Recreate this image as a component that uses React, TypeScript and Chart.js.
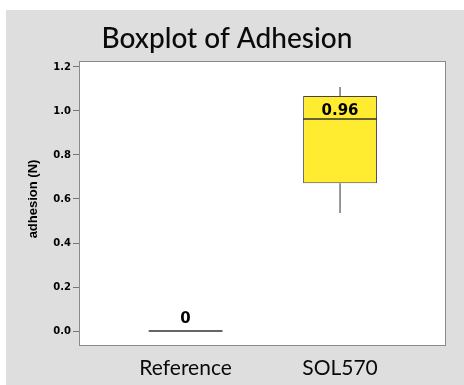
import React, { useEffect, useRef } from "react";
import { Chart, registerables } from "chart.js";

Chart.register(...registerables);

const categories = ["Reference", "SOL570"];
const whiskerLow = [0, 0.536];
const q1 = [0, 0.671];
const median = [0, 0.963];
const q3 = [0, 1.068];
const whiskerHigh = [0, 1.109];
const yTicks = [0, 0.2, 0.4, 0.6, 0.8, 1.0, 1.2];

const TITLE = "Boxplot of Adhesion";
const Y_TITLE = "adhesion (N)";
const BOX_WIDTH = 0.478; // fraction of category spacing

export default function App() {
  const ref = useRef<HTMLCanvasElement>(null);

  useEffect(() => {
    const canvas = ref.current;
    if (!canvas) return;
    const xs = categories.map((_, i) => i + 1);
    const half = BOX_WIDTH / 2;

    const medianPts: any[] = [];
    xs.forEach((x, i) => {
      medianPts.push({ x: x - half, y: median[i] }, { x: x + half, y: median[i] }, { x: x + half, y: null });
    });
    const whiskerPts: any[] = [];
    xs.forEach((x, i) => {
      if (whiskerHigh[i] > q3[i]) whiskerPts.push({ x, y: q3[i] }, { x, y: whiskerHigh[i] }, { x, y: null });
      if (whiskerLow[i] < q1[i]) whiskerPts.push({ x, y: q1[i] }, { x, y: whiskerLow[i] }, { x, y: null });
    });

    const deco = {
      id: "deco",
      beforeDraw(chart: any) {
        const { ctx, width, height, chartArea: a } = chart;
        ctx.save();
        ctx.fillStyle = "#ffffff";
        ctx.fillRect(0, 0, width, height);
        ctx.fillStyle = "#dedede";
        ctx.fillRect(6, 10, width - 6, height - 10);
        ctx.fillStyle = "#ffffff";
        ctx.fillRect(a.left, a.top, a.right - a.left, a.bottom - a.top);
        ctx.restore();
      },
      afterDatasetsDraw(chart: any) {
        const { ctx, scales } = chart;
        ctx.save();
        ctx.fillStyle = "#000000";
        ctx.font = "bold 15px 'DejaVu Sans'";
        ctx.textAlign = "center";
        ctx.textBaseline = "alphabetic";
        median.forEach((m, i) => {
          const px = scales.x.getPixelForValue(i + 1);
          const py = scales.y.getPixelForValue(m);
          const label = m === 0 ? "0" : m.toFixed(2);
          ctx.fillText(label, px, py - (m === 0 ? 8 : 4.5));
        });
        ctx.restore();
      },
      afterDraw(chart: any) {
        const { ctx, chartArea: a } = chart;
        ctx.save();
        ctx.strokeStyle = "#8a8a8a";
        ctx.lineWidth = 1;
        ctx.strokeRect(a.left + 0.5, a.top + 0.5, a.right - a.left - 1, a.bottom - a.top - 1);
        ctx.fillStyle = "#0a0a0a";
        ctx.font = "500 28px Lato";
        ctx.textAlign = "center";
        ctx.textBaseline = "alphabetic";
        ctx.fillText(TITLE, 227, 47.5);
        ctx.translate(33, 199);
        ctx.rotate(-Math.PI / 2);
        ctx.font = "bold 13px 'Liberation Sans'";
        ctx.fillStyle = "#000000";
        ctx.textBaseline = "middle";
        ctx.fillText(Y_TITLE, 0, 0);
        ctx.restore();
      },
    };

    const chart = new Chart(canvas, {
      type: "bar",
      data: {
        datasets: [
          {
            type: "bar",
            order: 3,
            data: xs.map((x, i) => ({ x, y: [q1[i], q3[i]] })) as any,
            backgroundColor: "#ffec30",
            borderColor: "#444444",
            borderWidth: 1,
            borderSkipped: false,
            categoryPercentage: BOX_WIDTH,
            barPercentage: 1,
          } as any,
          {
            type: "line",
            order: 1,
            data: whiskerPts,
            borderColor: "#555555",
            borderWidth: 1.2,
            pointRadius: 0,
            spanGaps: false,
          } as any,
          {
            type: "line",
            order: 0,
            data: medianPts,
            borderColor: "#333333",
            borderWidth: 1.5,
            pointRadius: 0,
            spanGaps: false,
          } as any,
        ],
      },
      options: {
        responsive: false,
        animation: false,
        devicePixelRatio: 1,
        layout: { padding: { top: 61, right: 18, bottom: 0, left: 0 } },
        plugins: {
          legend: { display: false },
          tooltip: { enabled: false },
          title: { display: false },
        },
        scales: {
          x: {
            type: "linear",
            offset: false,
            min: 0.31,
            max: 2.686,
            afterBuildTicks: (axis: any) => {
              axis.ticks = categories.map((_, i) => ({ value: i + 1 }));
            },
            afterFit: (axis: any) => {
              axis.height = 39;
            },
            grid: { display: false, drawTicks: false },
            border: { display: false },
            ticks: {
              autoSkip: false,
              maxRotation: 0,
              padding: 10,
              color: "#0a0a0a",
              font: { family: "Lato", size: 21 },
              callback: (v: any) => categories[Number(v) - 1] ?? "",
            },
          },
          y: {
            type: "linear",
            min: -0.068,
            max: 1.227,
            afterBuildTicks: (axis: any) => {
              axis.ticks = yTicks.map((v) => ({ value: v }));
            },
            afterFit: (axis: any) => {
              axis.width = 79;
            },
            grid: { drawOnChartArea: false, tickLength: 6, color: "#777777" },
            border: { display: false },
            ticks: {
              padding: 2,
              color: "#000000",
              font: { family: "DejaVu Sans", size: 10, weight: "bold" },
              callback: (v: any) => Number(v).toFixed(1),
            },
          },
        },
      } as any,
      plugins: [deco],
    });

    return () => chart.destroy();
  }, []);

  return (
    <div style={{ position: "fixed", left: 0, top: 0, width: 464, height: 385 }}>
      <canvas ref={ref} width={464} height={385} />
    </div>
  );
}
